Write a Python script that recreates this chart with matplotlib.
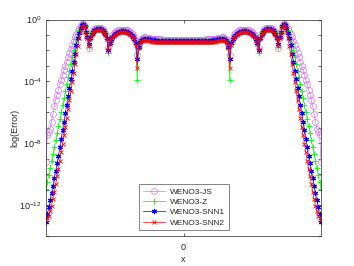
import numpy as np
import matplotlib
matplotlib.use('Agg')
import matplotlib.pyplot as plt
from matplotlib.ticker import FixedLocator, NullFormatter, FuncFormatter

plt.rcParams['font.family'] = ['Liberation Sans', 'DejaVu Sans']
plt.rcParams['mathtext.fontset'] = 'custom'
plt.rcParams['mathtext.rm'] = 'Liberation Sans'
plt.rcParams['mathtext.it'] = 'Liberation Sans'

# log10(Error), left half (x from -1 toward 0); the curves are mirror-symmetric
js_half = [-9.2, -7.45, -7.25, -7.05, -6.6, -6.1, -5.6, -5.2, -4.85, -4.55,
           -4.2, -3.9, -3.6, -3.27, -3.0, -2.72, -2.45, -2.17, -1.92, -1.65,
           -1.38, -1.13, -0.92, -0.74, -0.56, -0.42, -0.3, -0.22, -0.4, -0.75,
           -1.2, -1.85, -1.15, -0.87, -0.72, -0.62, -0.56, -0.53, -0.52, -0.53,
           -0.56, -0.62, -0.72, -0.87, -1.15, -1.85, -1.45, -1.18, -1.01, -0.9,
           -0.82, -0.76, -0.71, -0.68, -0.67, -0.66, -0.66, -0.67, -0.68, -0.71,
           -0.76, -0.82, -0.9, -1.01, -1.18, -1.5, -2.3, -1.6, -1.35, -1.24,
           -1.18, -1.16, -1.16, -1.17, -1.19, -1.21, -1.23, -1.25, -1.26, -1.27,
           -1.28, -1.28, -1.29, -1.29, -1.3, -1.3, -1.3, -1.3, -1.3, -1.3,
           -1.3, -1.3, -1.3, -1.3, -1.3, -1.3, -1.3, -1.3, -1.3, -1.3]

z_half = [-10.95, -10.5, -10.05, -9.6, -9.15, -8.7, -8.25, -7.8, -7.35, -6.9,
          -6.45, -6.0, -5.55, -5.1, -4.65, -4.2, -3.75, -3.3, -2.85, -2.42,
          -2.0, -1.6, -1.25, -0.95, -0.7, -0.5, -0.35, -0.27, -0.45, -0.8,
          -1.15, -1.75, -1.24, -0.96, -0.81, -0.71, -0.65, -0.62, -0.61, -0.62,
          -0.65, -0.71, -0.81, -0.96, -1.24, -2.15, -1.57, -1.3, -1.13, -1.02,
          -0.94, -0.88, -0.83, -0.8, -0.78, -0.77, -0.77, -0.78, -0.8, -0.83,
          -0.88, -0.94, -1.02, -1.13, -1.3, -1.6, -3.9, -1.8, -1.48, -1.35,
          -1.28, -1.26, -1.26, -1.27, -1.29, -1.31, -1.33, -1.35, -1.36, -1.37,
          -1.38, -1.38, -1.39, -1.39, -1.39, -1.39, -1.39, -1.39, -1.39, -1.39,
          -1.39, -1.39, -1.39, -1.39, -1.39, -1.39, -1.39, -1.39, -1.39, -1.39]

snn1_half = [-13.1, -12.6, -12.15, -11.7, -11.2, -10.75, -10.25, -9.8, -9.3, -8.85,
             -8.25, -7.7, -7.15, -6.6, -6.05, -5.5, -4.95, -4.4, -3.85, -3.3,
             -2.75, -2.2, -1.65, -1.2, -0.85, -0.58, -0.37, -0.26, -0.45, -0.8,
             -1.15, -1.6, -1.22, -0.95, -0.8, -0.7, -0.64, -0.61, -0.6, -0.61,
             -0.64, -0.7, -0.8, -0.95, -1.22, -1.95, -1.55, -1.28, -1.11, -1.0,
             -0.92, -0.86, -0.81, -0.78, -0.76, -0.75, -0.75, -0.76, -0.78, -0.81,
             -0.86, -0.92, -1.0, -1.11, -1.28, -1.55, -2.55, -1.75, -1.45, -1.32,
             -1.26, -1.24, -1.24, -1.25, -1.27, -1.29, -1.31, -1.33, -1.34, -1.35,
             -1.36, -1.37, -1.37, -1.38, -1.38, -1.38, -1.38, -1.38, -1.38, -1.38,
             -1.38, -1.38, -1.38, -1.38, -1.38, -1.38, -1.38, -1.38, -1.38, -1.38]

snn2_half = [-12.95, -12.85, -12.7, -12.4, -12.05, -11.6, -11.15, -10.65, -10.15, -9.65,
             -9.15, -8.6, -8.05, -7.5, -6.95, -6.35, -5.8, -5.2, -4.65, -4.05,
             -3.45, -2.85, -2.25, -1.7, -1.2, -0.8, -0.5, -0.32, -0.5, -0.85,
             -1.2, -1.7, -1.28, -1.0, -0.85, -0.75, -0.69, -0.66, -0.65, -0.66,
             -0.69, -0.75, -0.85, -1.0, -1.28, -2.0, -1.6, -1.33, -1.16, -1.05,
             -0.97, -0.91, -0.86, -0.83, -0.81, -0.8, -0.8, -0.81, -0.83, -0.86,
             -0.91, -0.97, -1.05, -1.16, -1.33, -1.65, -3.15, -1.85, -1.55, -1.42,
             -1.36, -1.34, -1.34, -1.35, -1.37, -1.39, -1.41, -1.43, -1.44, -1.45,
             -1.46, -1.46, -1.47, -1.47, -1.47, -1.48, -1.48, -1.48, -1.48, -1.48,
             -1.48, -1.48, -1.48, -1.48, -1.48, -1.48, -1.48, -1.48, -1.48, -1.48]

labels = ['WENO3-JS', 'WENO3-Z', 'WENO3-SNN1', 'WENO3-SNN2']
x_ticks = [0]
x_ticklabels = ['0']
y_label_exps = [0, -4, -8, -12]


def full(half):
    h = np.array(half)
    return 10.0 ** np.concatenate([h, h[::-1]])


series = [full(js_half), full(z_half), full(snn1_half), full(snn2_half)]
x = np.linspace(-1, 1, len(series[0]))

fig = plt.figure(figsize=(3.54, 2.66), dpi=100)
ax = fig.add_axes([46 / 354, 1 - 236 / 266, 275 / 354, 216.5 / 266])

styles = [
    dict(color=(0.85, 0.45, 1.0), marker='o', ms=4.3, mfc='none', mew=0.5, lw=0.5),
    dict(color=(0.0, 1.0, 0.0), marker='+', ms=4.0, mew=0.6, lw=0.5),
    dict(color=(0.0, 0.0, 1.0), marker=(6, 2, 0), ms=3.8, mew=0.8, lw=0.5),
    dict(color=(1.0, 0.0, 0.0), marker='x', ms=3.0, mew=0.6, lw=0.5),
]
for y, lab, st in zip(series, labels, styles):
    ax.plot(x, y, label=lab, **st)

ax.set_yscale('log')
ax.set_xlim(-1, 1)
ax.set_ylim(1e-14, 1)

ax.yaxis.set_major_locator(FixedLocator([10.0 ** e for e in y_label_exps]))
ax.yaxis.set_major_formatter(FuncFormatter(lambda v, p: r'$\mathregular{10^{%d}}$' % round(np.log10(v))))
ax.yaxis.set_minor_locator(FixedLocator([10.0 ** e for e in range(-14, 1)]))
ax.yaxis.set_minor_formatter(NullFormatter())
ax.set_xticks(x_ticks)
ax.set_xticklabels(x_ticklabels)

axc = '#262626'
for s in ax.spines.values():
    s.set_color(axc)
    s.set_linewidth(0.5)
ax.tick_params(which='both', direction='in', top=True, right=True, length=2.2,
               width=0.5, color=axc, labelsize=6.5, labelcolor=axc)
ax.tick_params(axis='x', pad=5)
ax.tick_params(axis='y', pad=3)

ax.set_xlabel('x', fontsize=6.5, color=axc, labelpad=2.5)
ax.set_ylabel('log(Error)', fontsize=6.5, color=axc)
ax.yaxis.set_label_coords(-0.095, 0.5)

leg = ax.legend(loc='lower center', bbox_to_anchor=(0.502, 0.028), fontsize=6,
                frameon=True, fancybox=False, borderaxespad=0, handlelength=2.7,
                labelspacing=0.3, borderpad=0.4, handletextpad=0.6)
leg.get_frame().set_edgecolor(axc)
leg.get_frame().set_linewidth(0.5)
for t in leg.get_texts():
    t.set_color(axc)

fig.savefig('out.png', dpi=100)
